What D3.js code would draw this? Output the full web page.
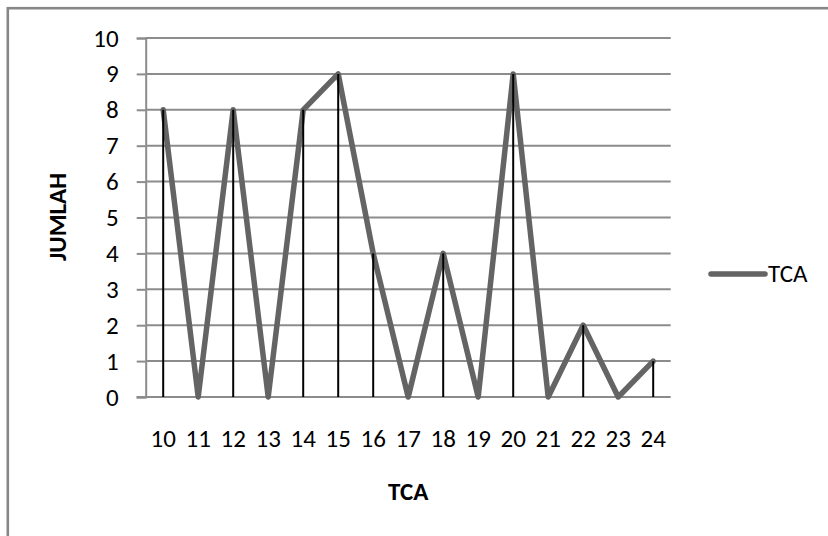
<!DOCTYPE html>
<html>
<head>
<meta charset="utf-8">
<script src="https://cdn.jsdelivr.net/npm/d3@7"></script>
<style>
  html, body { margin: 0; padding: 0; background: #fff; }
  svg { display: block; }
  text { font-family: Carlito, Calibri, Lato, sans-serif; fill: #000; }
</style>
</head>
<body>
<svg id="chart" width="828" height="536"></svg>
<script>
const categories = ["10","11","12","13","14","15","16","17","18","19","20","21","22","23","24"];
const values = [8, 0, 8, 0, 8, 9, 4, 0, 4, 0, 9, 0, 2, 0, 1];
const yTicks = [0,1,2,3,4,5,6,7,8,9,10];
const seriesName = "TCA";
const xTitle = "TCA";
const yTitle = "JUMLAH";

const FONT = "Carlito, Calibri, Lato, sans-serif";
const FS = 25;

const svg = d3.select("#chart");
const W = 828, H = 536;
const plot = { left: 145.7, right: 670.7, top: 38, bottom: 397 };

svg.append("rect").attr("width", W).attr("height", H).attr("fill", "#fff");
// outer chart border (right/bottom edges fall outside the image)
svg.append("rect")
  .attr("x", 7.8).attr("y", 8.2).attr("width", 840).attr("height", 560)
  .attr("fill", "none").attr("stroke", "#878787").attr("stroke-width", 2.6);

const x = d3.scaleBand().domain(categories).range([plot.left, plot.right]).padding(0);
const y = d3.scaleLinear().domain([0, 10]).range([plot.bottom, plot.top]);
const cx = c => x(c) + x.bandwidth() / 2;

// gridlines
svg.append("g").selectAll("line").data(yTicks.filter(d => d > 0)).join("line")
  .attr("x1", plot.left).attr("x2", plot.right)
  .attr("y1", d => y(d)).attr("y2", d => y(d))
  .attr("stroke", "#8c8c8c").attr("stroke-width", 2);

// y axis
const yAxis = svg.append("g").attr("transform", `translate(${plot.left},0)`)
  .call(d3.axisLeft(y).tickValues(yTicks).tickSize(9).tickPadding(18).tickFormat(d3.format("d")));
yAxis.attr("font-size", FS).attr("font-family", FONT);
yAxis.select(".domain").attr("stroke", "#8c8c8c").attr("stroke-width", 2);
yAxis.selectAll(".tick line").attr("stroke", "#8c8c8c").attr("stroke-width", 2);
yAxis.selectAll("text").attr("font-size", FS).attr("fill", "#000");

// x axis
const xAxis = svg.append("g").attr("transform", `translate(0,${plot.bottom})`)
  .call(d3.axisBottom(x).tickSize(0).tickPadding(32));
xAxis.attr("font-size", FS).attr("font-family", FONT);
xAxis.select(".domain").attr("stroke", "#8c8c8c").attr("stroke-width", 2)
  .attr("d", `M${plot.left - 9},0H${plot.right}`);
xAxis.selectAll("text").attr("font-size", FS).attr("fill", "#000");

// series line
const line = d3.line().x((d, i) => cx(categories[i])).y(d => y(d));
svg.append("path").datum(values)
  .attr("d", line)
  .attr("fill", "none").attr("stroke", "#646464").attr("stroke-width", 5.5)
  .attr("stroke-linejoin", "round").attr("stroke-linecap", "round");

// drop lines
svg.append("g").selectAll("line").data(values).join("line")
  .attr("x1", (d, i) => cx(categories[i])).attr("x2", (d, i) => cx(categories[i]))
  .attr("y1", y(0)).attr("y2", d => y(d))
  .attr("stroke", "#000").attr("stroke-width", 2);

// axis titles
svg.append("text")
  .attr("x", (plot.left + plot.right) / 2).attr("y", 500)
  .attr("text-anchor", "middle").attr("font-size", FS).attr("font-weight", "bold")
  .text(xTitle);
svg.append("text")
  .attr("transform", `translate(66,217) rotate(-90)`)
  .attr("text-anchor", "middle").attr("font-size", FS).attr("font-weight", "bold")
  .text(yTitle);

// legend
const lg = svg.append("g");
lg.append("line").attr("x1", 711).attr("x2", 765).attr("y1", 274).attr("y2", 274)
  .attr("stroke", "#646464").attr("stroke-width", 5.5).attr("stroke-linecap", "round");
lg.append("text").attr("x", 768).attr("y", 274).attr("dy", "0.32em")
  .attr("font-size", FS).text(seriesName);
</script>
</body>
</html>
